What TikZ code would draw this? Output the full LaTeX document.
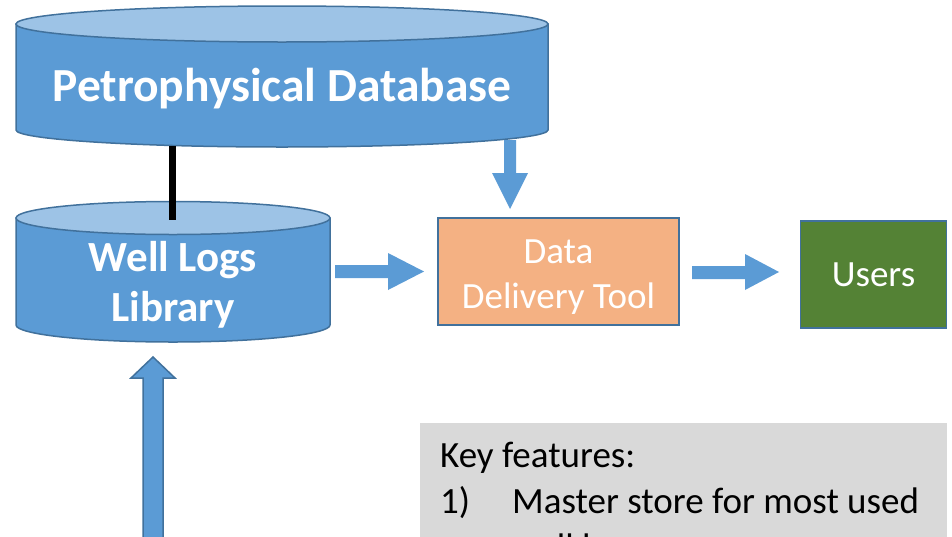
\documentclass[tikz,border=0pt]{standalone}
\usepackage{fontspec}
\setmainfont{Carlito}
\usetikzlibrary{positioning}
\definecolor{dbblue}{HTML}{5B9BD5}
\definecolor{dbtop}{HTML}{9DC3E6}
\definecolor{dbline}{HTML}{41719C}
\definecolor{tool}{HTML}{F4B183}
\definecolor{usergreen}{HTML}{548235}
\definecolor{keygray}{HTML}{D9D9D9}
\begin{document}
\begin{tikzpicture}[
				x=1pt, y=-1pt,
				dbtext/.style={text=white, font=\fontsize{43}{50}\selectfont\bfseries, align=center},
				box/.style={draw=dbline, line width=1.5pt, minimum height=107pt, font=\fontsize{37}{45}\selectfont, text=white, align=center},
				boxtext/.style={font=\fontsize{37}{45}\selectfont, text=white, align=center},
				fat/.style={fill=dbblue},
				cyl/.style={draw=dbline, line width=1.5pt},
				keytext/.style={anchor=base west, font=\fontsize{37}{46}\selectfont, inner sep=0pt}
				]
			\useasboundingbox (0,0) rectangle (952,536);
			\begin{scope}
			\clip (0,0) rectangle (952,536);
			% petrophysical database
			\filldraw [cyl, fill=dbblue] (16,24) -- (16,130) arc[start angle=180, end angle=0, x radius=266, y radius=17] -- (548,24) -- cycle;
			\filldraw [cyl, fill=dbtop] (282,24) ellipse [x radius=266, y radius=18];
			\node [dbtext, font=\fontsize{47.5}{50}\selectfont\bfseries] (petro) at (282,89) {Petrophysical Database};
			\coordinate (petrobot) at (172.5,146);
			% well logs library
			\filldraw [cyl, fill=dbblue] (16,218) -- (16,325) arc[start angle=180, end angle=0, x radius=157, y radius=17] -- (330,218) -- cycle;
			\filldraw [cyl, fill=dbtop] (173,218) ellipse [x radius=157, y radius=16.5];
			\node [dbtext] (lib) at (173,285) {Well Logs\\Library};
			\coordinate (libtop) at (172.5,220);
			\draw [line width=7pt] (petrobot) -- (libtop);
			% delivery tool and users
			\node [box, fill=tool, minimum width=241pt,
				label={[boxtext, yshift=-6pt]center:Data\\Delivery Tool}] (ddt) at (558.5,271.5) {};
			\node [box, fill=usergreen, minimum width=146pt, right=120pt of ddt, yshift=-3pt] (users) {Users};
			% block arrows
			\fill [fat] (504,140) -- (504,173) -- (492,173) -- (510,209) -- (528,173) -- (516,173) -- (516,140) -- cycle;
			\fill [fat] (335,265) -- (388,265) -- (388,253) -- (424,271.5) -- (388,290) -- (388,278) -- (335,278) -- cycle;
			\fill [fat] (692,266) -- (745,266) -- (745,254) -- (779,272) -- (745,290) -- (745,279) -- (692,279) -- cycle;
			\filldraw [fat, draw=dbline, line width=1.5pt] (143,545) -- (143,378) -- (131,378) -- (153,357) -- (175,378) -- (163,378) -- (163,545) -- cycle;
			% key features
			\fill [keygray] (420,423) rectangle (947,560);
			\node [keytext] (key) at (440,467) {Key features:};
			\node [keytext] (one) at (440,513) {1)};
			\node [keytext] (feat) at (512,513) {Master store for most used};
			\node [keytext] (featb) at (512,559) {well logs};
			\end{scope}
			\end{tikzpicture}
\end{document}
